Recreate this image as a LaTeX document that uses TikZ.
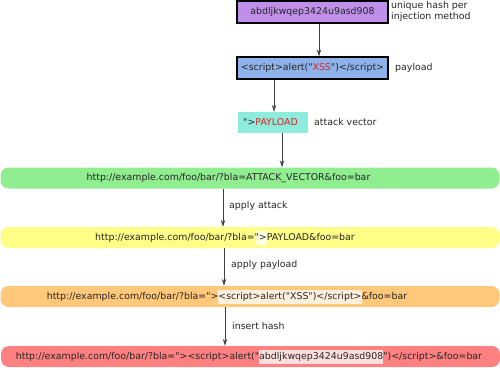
\documentclass[tikz,border=0pt]{standalone}
\usepackage{fontspec}
\newfontfamily\djv{DejaVu Sans}
\usetikzlibrary{arrows.meta}
\definecolor{cpurple}{RGB}{191,143,234}
\definecolor{cblue}{RGB}{141,179,234}
\definecolor{ccyan}{RGB}{142,236,220}
\definecolor{cgreen}{RGB}{144,238,144}
\definecolor{cyellow}{RGB}{255,255,136}
\definecolor{corange}{RGB}{255,200,122}
\definecolor{cred}{RGB}{255,128,128}
\definecolor{hyellow}{RGB}{255,255,222}
\definecolor{horange}{RGB}{255,240,222}
\definecolor{hred}{RGB}{255,222,222}
\definecolor{txtred}{RGB}{230,30,30}
\newcommand{\hl}[2]{{\setlength{\fboxsep}{0pt}\colorbox{#1}{\rule[-4pt]{0pt}{14pt}#2}}}
\tikzset{
  txt/.style={inner sep=0pt, font=\djv\fontsize{9.4}{11.5}\selectfont, text=black!85},
  topbox/.style={draw=black, line width=1.3pt, minimum width=151pt, minimum height=22pt, inner sep=0pt},
  bar/.style={rounded corners=8pt, minimum width=499pt, minimum height=21pt, inner sep=0pt},
  conn/.style={draw=black!75, line width=0.8pt, -{Stealth[length=7pt,width=4.5pt]}}
}
\begin{document}
\begin{tikzpicture}[x=1pt,y=-1pt]
\useasboundingbox (0,0) rectangle (500,369);
% top boxes
\node[topbox, fill=cpurple] (hash) at (312.5,12) {};
\node[txt] (hasht) at (312.5,12) {abdljkwqep3424u9asd908};
\node[txt, anchor=north west, align=left] (hashl) at (391,1) {unique hash per\\injection method};
\node[topbox, fill=cblue] (pay) at (312.5,68) {};
\node[txt] (payt) at (312.5,68) {<script>alert("\textcolor{txtred}{XSS}")</script>};
\node[txt, anchor=west] (payl) at (395,68) {payload};
\node[fill=ccyan, minimum width=70pt, minimum height=21pt, inner sep=0pt] (av) at (273,122.5) {};
\node[txt] (avt) at (270.5,122.5) {">\textcolor{txtred}{PAYLOAD}};
\node[txt, anchor=west] (avl) at (314,122) {attack vector};
% bars
\node[bar, fill=cgreen] (green) at (250,178) {};
\node[txt] (greent) at (228.5,178) {http://example.com/foo/bar/?bla=ATTACK\_VECTOR\&foo=bar};
\node[bar, fill=cyellow] (yellow) at (250,237.5) {};
\node[txt] (yellowt) at (225,237.5) {http://example.com/foo/bar/?bla=\hl{hyellow}{">}PAYLOAD\&foo=bar};
\node[bar, fill=corange] (orange) at (250,296.5) {};
\node[txt] (oranget) at (227,296.5) {http://example.com/foo/bar/?bla=">\hl{horange}{<script>alert("XSS")</script>}\&foo=bar};
\node[bar, fill=cred] (red) at (250.5,356.5) {};
\node[txt] (redt) at (249,356.5) {http://example.com/foo/bar/?bla="><script>alert("\hl{hred}{abdljkwqep3424u9asd908}")</script>\&foo=bar};
% labels
\node[txt, anchor=west] (l1) at (229,206) {apply attack};
\node[txt, anchor=west] (l2) at (231,265) {apply payload};
\node[txt, anchor=west] (l3) at (232,326) {insert hash};
% connectors
\draw[conn] (hash.south -| 319,0) -- (pay.north -| 319,0);
\draw[conn] (pay.south -| 274,0) -- (av.north -| 274,0);
\draw[conn] (av.south -| 282,0) -- (green.north -| 282,0);
\draw[conn] (green.south -| 223,0) -- (yellow.north -| 223,0);
\draw[conn] (yellow.south -| 224,0) -- (orange.north -| 224,0);
\draw[conn] (orange.south -| 225,0) -- (red.north -| 225,0);
\end{tikzpicture}
\end{document}
